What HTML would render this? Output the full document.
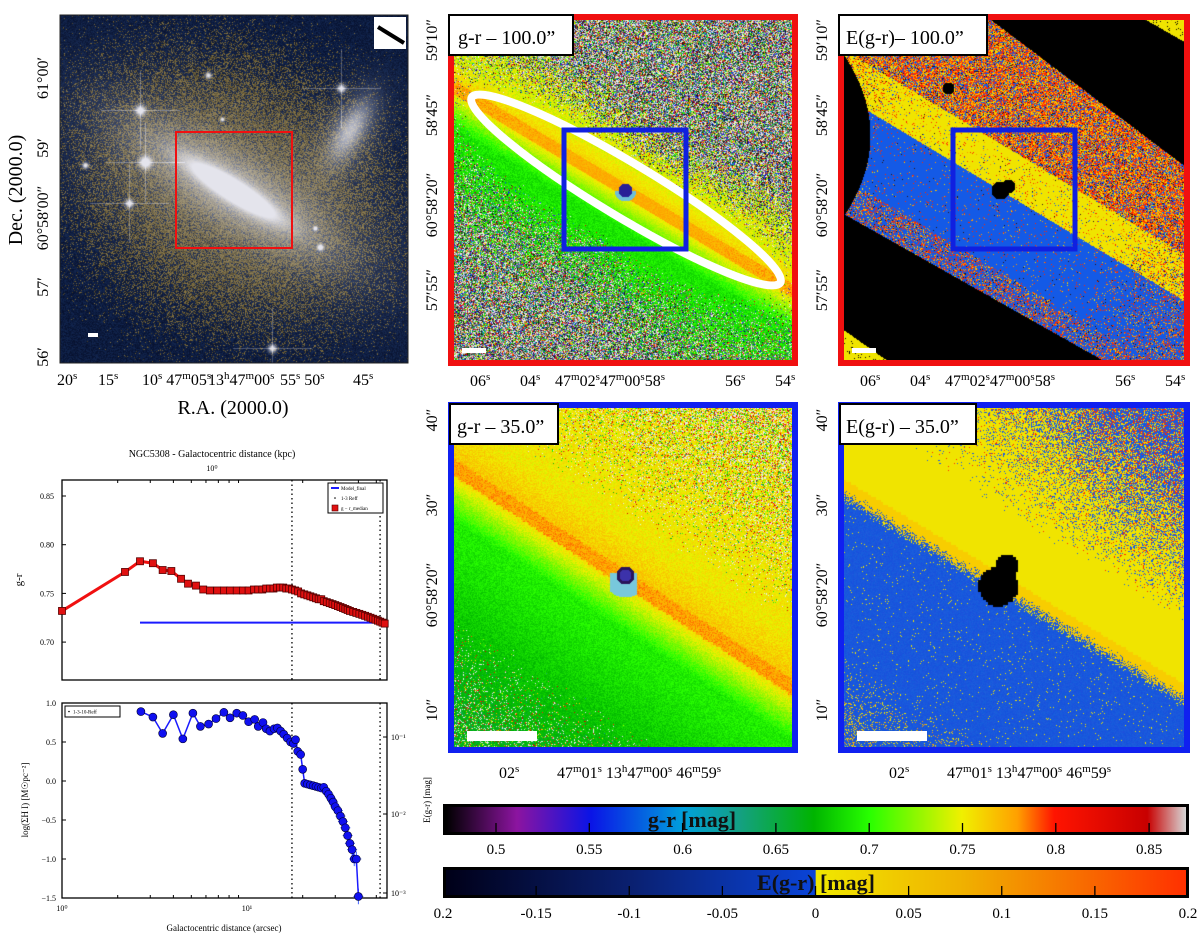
<!DOCTYPE html>
<html><head><meta charset="utf-8">
<style>
html,body{margin:0;padding:0;background:#fff;}
body{width:1200px;height:937px;position:relative;overflow:hidden;font-family:"Liberation Serif",serif;}
canvas{position:absolute;display:block;}
#ov{position:absolute;left:0;top:0;}
.cb{position:absolute;border:3px solid #000;box-sizing:border-box;}
</style></head>
<body>
<canvas id="tl" width="348" height="348" style="left:60px;top:15px"></canvas>
<canvas id="mt" width="350" height="352" style="left:448px;top:14px"></canvas>
<canvas id="rt" width="352" height="352" style="left:838px;top:14px"></canvas>
<canvas id="ml" width="350" height="351" style="left:448px;top:402px"></canvas>
<canvas id="mr" width="352" height="351" style="left:838px;top:402px"></canvas>
<div class="cb" style="left:443px;top:804px;width:746px;height:31px;background:linear-gradient(to right,#000 0%,#8c14a0 9.6%,#0a14e6 19.6%,#00a0dc 32.1%,#14a082 39.7%,#00b400 49.7%,#28ff00 57.2%,#f0f000 69.7%,#ffa000 77.2%,#ff1400 82.2%,#c80000 94.8%,#d7d7d7 100%);"></div>
<div class="cb" style="left:443px;top:867px;width:746px;height:31px;background:linear-gradient(to right,#000018 0%,#0a2070 25%,#0a44d8 49.9%,#f0e800 50%,#f0b000 70%,#ff3000 100%);"></div>
<svg id="ov" width="1200" height="937" xmlns="http://www.w3.org/2000/svg" font-family="Liberation Serif, serif">
<g>
<rect x="60" y="15" width="348" height="348" fill="none" stroke="#222" stroke-width="1"/>
<rect x="176" y="132" width="116" height="116" fill="none" stroke="#f01010" stroke-width="2"/>
<rect x="374" y="17" width="32" height="32" fill="#fff"/>
<line x1="378" y1="27" x2="404" y2="43" stroke="#000" stroke-width="4"/>
<rect x="88" y="333" width="10" height="4" fill="#fff"/>
<text transform="translate(22,190) rotate(-90)" text-anchor="middle" font-size="20">Dec. (2000.0)</text>
<text transform="translate(48,78) rotate(-90)" text-anchor="middle" font-size="16">61°00′</text>
<text transform="translate(48,148) rotate(-90)" text-anchor="middle" font-size="16">59′</text>
<text transform="translate(48,218) rotate(-90)" text-anchor="middle" font-size="16">60°58′00″</text>
<text transform="translate(48,287) rotate(-90)" text-anchor="middle" font-size="16">57′</text>
<text transform="translate(48,357) rotate(-90)" text-anchor="middle" font-size="16">56′</text>
<g font-size="16">
<text x="57" y="385">20<tspan dy="-6" font-size="11">s</tspan></text>
<text x="98" y="385">15<tspan dy="-6" font-size="11">s</tspan></text>
<text x="142" y="385">10<tspan dy="-6" font-size="11">s</tspan><tspan dy="6"> 47</tspan><tspan dy="-6" font-size="11">m</tspan><tspan dy="6">05</tspan><tspan dy="-6" font-size="11">s</tspan></text>
<text x="208" y="385">13<tspan dy="-6" font-size="11">h</tspan><tspan dy="6">47</tspan><tspan dy="-6" font-size="11">m</tspan><tspan dy="6">00</tspan><tspan dy="-6" font-size="11">s</tspan></text>
<text x="280" y="385">55<tspan dy="-6" font-size="11">s</tspan><tspan dy="6"> 50</tspan><tspan dy="-6" font-size="11">s</tspan></text>
<text x="353" y="385">45<tspan dy="-6" font-size="11">s</tspan></text>
</g>
<text x="233" y="414" text-anchor="middle" font-size="20">R.A. (2000.0)</text>
</g>
<g>
<ellipse cx="626" cy="190" rx="180" ry="27" transform="rotate(31 626 190)" fill="none" stroke="#fff" stroke-width="8"/>
<rect x="564" y="130" width="122" height="119" fill="none" stroke="#1020e0" stroke-width="5"/>
<rect x="451" y="17" width="344" height="346" fill="none" stroke="#f01010" stroke-width="6"/>
<rect x="462" y="348" width="24" height="5" fill="#fff"/>
<rect x="449" y="15" width="124" height="40" fill="#fff" stroke="#000" stroke-width="2"/>
<text x="458" y="44" font-size="20">g-r – 100.0”</text>
</g>
<g>
<rect x="953" y="130" width="122" height="119" fill="none" stroke="#1020e0" stroke-width="5"/>
<rect x="841" y="17" width="346" height="346" fill="none" stroke="#f01010" stroke-width="6"/>
<rect x="852" y="348" width="24" height="5" fill="#fff"/>
<rect x="839" y="15" width="148" height="40" fill="#fff" stroke="#000" stroke-width="2"/>
<text x="846" y="44" font-size="20">E(g-r)– 100.0”</text>
</g>
<g font-size="16">
<text transform="translate(437,40) rotate(-90)" text-anchor="middle">59′10″</text>
<text transform="translate(437,115) rotate(-90)" text-anchor="middle">58′45″</text>
<text transform="translate(437,205) rotate(-90)" text-anchor="middle">60°58′20″</text>
<text transform="translate(437,290) rotate(-90)" text-anchor="middle">57′55″</text>
<text transform="translate(827,40) rotate(-90)" text-anchor="middle">59′10″</text>
<text transform="translate(827,115) rotate(-90)" text-anchor="middle">58′45″</text>
<text transform="translate(827,205) rotate(-90)" text-anchor="middle">60°58′20″</text>
<text transform="translate(827,290) rotate(-90)" text-anchor="middle">57′55″</text>
<text x="470" y="386">06<tspan dy="-6" font-size="11">s</tspan></text>
<text x="520" y="386">04<tspan dy="-6" font-size="11">s</tspan></text>
<text x="555" y="386">47<tspan dy="-6" font-size="11">m</tspan><tspan dy="6">02</tspan><tspan dy="-6" font-size="11">s</tspan><tspan dy="6">47</tspan><tspan dy="-6" font-size="11">m</tspan><tspan dy="6">00</tspan><tspan dy="-6" font-size="11">s</tspan><tspan dy="6">58</tspan><tspan dy="-6" font-size="11">s</tspan></text>
<text x="725" y="386">56<tspan dy="-6" font-size="11">s</tspan></text>
<text x="775" y="386">54<tspan dy="-6" font-size="11">s</tspan></text>
<text x="860" y="386">06<tspan dy="-6" font-size="11">s</tspan></text>
<text x="910" y="386">04<tspan dy="-6" font-size="11">s</tspan></text>
<text x="945" y="386">47<tspan dy="-6" font-size="11">m</tspan><tspan dy="6">02</tspan><tspan dy="-6" font-size="11">s</tspan><tspan dy="6">47</tspan><tspan dy="-6" font-size="11">m</tspan><tspan dy="6">00</tspan><tspan dy="-6" font-size="11">s</tspan><tspan dy="6">58</tspan><tspan dy="-6" font-size="11">s</tspan></text>
<text x="1115" y="386">56<tspan dy="-6" font-size="11">s</tspan></text>
<text x="1165" y="386">54<tspan dy="-6" font-size="11">s</tspan></text>
</g>
<g>
<rect x="451" y="405" width="344" height="345" fill="none" stroke="#1020f0" stroke-width="6"/>
<rect x="467" y="731" width="70" height="10" fill="#fff"/>
<rect x="450" y="404" width="108" height="40" fill="#fff" stroke="#000" stroke-width="2"/>
<text x="457" y="433" font-size="20">g-r – 35.0”</text>
</g>
<g>
<rect x="841" y="405" width="346" height="345" fill="none" stroke="#1020f0" stroke-width="6"/>
<rect x="857" y="731" width="70" height="10" fill="#fff"/>
<rect x="840" y="404" width="136" height="40" fill="#fff" stroke="#000" stroke-width="2"/>
<text x="846" y="433" font-size="20">E(g-r) – 35.0”</text>
</g>
<g font-size="16">
<text transform="translate(437,420) rotate(-90)" text-anchor="middle">40″</text>
<text transform="translate(437,505) rotate(-90)" text-anchor="middle">30″</text>
<text transform="translate(437,595) rotate(-90)" text-anchor="middle">60°58′20″</text>
<text transform="translate(437,710) rotate(-90)" text-anchor="middle">10″</text>
<text transform="translate(827,420) rotate(-90)" text-anchor="middle">40″</text>
<text transform="translate(827,505) rotate(-90)" text-anchor="middle">30″</text>
<text transform="translate(827,595) rotate(-90)" text-anchor="middle">60°58′20″</text>
<text transform="translate(827,710) rotate(-90)" text-anchor="middle">10″</text>
<text x="499" y="778">02<tspan dy="-6" font-size="11">s</tspan></text>
<text x="557" y="778">47<tspan dy="-6" font-size="11">m</tspan><tspan dy="6">01</tspan><tspan dy="-6" font-size="11">s</tspan><tspan dy="6"> 13</tspan><tspan dy="-6" font-size="11">h</tspan><tspan dy="6">47</tspan><tspan dy="-6" font-size="11">m</tspan><tspan dy="6">00</tspan><tspan dy="-6" font-size="11">s</tspan><tspan dy="6"> 46</tspan><tspan dy="-6" font-size="11">m</tspan><tspan dy="6">59</tspan><tspan dy="-6" font-size="11">s</tspan></text>
<text x="889" y="778">02<tspan dy="-6" font-size="11">s</tspan></text>
<text x="947" y="778">47<tspan dy="-6" font-size="11">m</tspan><tspan dy="6">01</tspan><tspan dy="-6" font-size="11">s</tspan><tspan dy="6"> 13</tspan><tspan dy="-6" font-size="11">h</tspan><tspan dy="6">47</tspan><tspan dy="-6" font-size="11">m</tspan><tspan dy="6">00</tspan><tspan dy="-6" font-size="11">s</tspan><tspan dy="6"> 46</tspan><tspan dy="-6" font-size="11">m</tspan><tspan dy="6">59</tspan><tspan dy="-6" font-size="11">s</tspan></text>
</g>
<g>
<text x="692" y="827" text-anchor="middle" font-size="22" font-weight="bold" fill="#111">g-r [mag]</text>
<text x="816" y="890" text-anchor="middle" font-size="22" font-weight="bold" fill="#111">E(g-r) [mag]</text>
<text transform="translate(430,800) rotate(-90)" text-anchor="middle" font-size="9">E(g-r) [mag]</text>
<g id="cbticks" font-size="15"></g>
</g>
<g id="profile"></g>
</svg>
<script>
// ---------- profile chart data ----------
const grDist=[1,2.19,2.64,3.1,3.5,3.9,4.4,4.8,5.3,5.8,6.3,6.9,7.5,8.1,8.8,9.5,10.2,10.9,11.5,12.1,12.7,13.3,13.9,14.5,15.1,15.7,16.3,16.9,17.5,18.2,18.9,19.6,20.4,21.2,22,22.8,23.6,24.4,25.2,26,27,28,29,30,31,32,33,34,35,36,37.5,39,40.5,42,43.5,45,46.5,48,49.5,51,52.5,54,55.5];
const grValues=[.732,.772,.783,.781,.774,.773,.765,.760,.758,.754,.753,.753,.753,.753,.753,.753,.753,.754,.754,.754,.755,.755,.755,.756,.756,.756,.755,.755,.754,.753,.752,.750,.749,.748,.747,.746,.745,.744,.744,.742,.741,.740,.739,.738,.737,.736,.735,.734,.733,.732,.731,.730,.729,.728,.727,.726,.725,.724,.723,.722,.721,.720,.719];
const modelRange=[2.64,57];
const modelValue=0.720;
const reffLines=[17.5,52.4];
const grTicks=[0.70,0.75,0.80,0.85];
const hiDist=[2.67,3.1,3.5,4.0,4.5,5.1,5.6,6.2,6.8,7.5,8.1,8.8,9.5,10.2,11,11.5,12.2,12.7,13.3,14,14.6,15.2,15.8,16.5,17.2,17.8,18.3,18.8,19.5,20,20.5,21.2,22,22.8,23.6,24.4,25.2,26,26.8,27.6,28.4,29.2,30,31,32,33,34,35,36,37,38,39,40];
const hiValues=[0.89,0.82,0.61,0.85,0.54,0.87,0.70,0.73,0.80,0.88,0.81,0.87,0.84,0.76,0.79,0.70,0.75,0.67,0.64,0.67,0.68,0.64,0.60,0.55,0.50,0.48,0.53,0.38,0.34,0.15,-0.03,-0.04,-0.05,-0.06,-0.07,-0.08,-0.09,-0.08,-0.13,-0.17,-0.22,-0.27,-0.33,-0.38,-0.45,-0.52,-0.60,-0.70,-0.80,-0.88,-1.0,-1.0,-1.48];
const hiTicks=[1.0,0.5,0.0,-0.5,-1.0,-1.5];
const hiTickLabels=["1.0","0.5","0.0","\u22120.5","\u22121.0","\u22121.5"];
const cb1Ticks=[0.5,0.55,0.6,0.65,0.7,0.75,0.8,0.85];
const cb2Ticks=[-0.2,-0.15,-0.1,-0.05,0,0.05,0.1,0.15,0.2];
const cb2Labels=["0.2","-0.15","-0.1","-0.05","0","0.05","0.1","0.15","0.2"];

const NS="http://www.w3.org/2000/svg";
function mk(tag,attrs,parent,txt){const e=document.createElementNS(NS,tag);for(const k in attrs)e.setAttribute(k,attrs[k]);if(txt!==undefined)e.textContent=txt;parent.appendChild(e);return e;}
const X0=62,X1=387;
function xs(d){return X0+185*Math.log10(d);}
function y1(v){return 496+(0.85-v)/0.05*48.7;}
function y2(v){return 703+(1-v)/2.5*195;}
const G=document.getElementById('profile');

let t=mk('text',{x:212,y:457,'text-anchor':'middle','font-size':10},G,'NGC5308 - Galactocentric distance (kpc)');

t=mk('text',{x:212,y:471,'text-anchor':'middle','font-size':8},G,'10⁰');
let f=mk('rect',{x:X0,y:480,width:X1-X0,height:200,fill:'#fff',stroke:'#000','stroke-width':1.3},G);

grTicks.forEach(v=>{mk('line',{x1:X0,y1:y1(v),x2:X0+4,y2:y1(v),stroke:'#000'},G);
 const l=mk('text',{x:X0-8,y:y1(v)+3,'text-anchor':'end','font-size':8},G,v.toFixed(2));
 });
t=mk('text',{transform:'translate(22,580) rotate(-90)','text-anchor':'middle','font-size':11},G,'g-r');

reffLines.forEach(d=>{const l=mk('line',{x1:xs(d),y1:480,x2:xs(d),y2:680,stroke:'#000','stroke-dasharray':'1.5,3','stroke-width':1.3},G);
 });
let ml=mk('line',{x1:xs(modelRange[0]),y1:y1(modelValue),x2:Math.min(X1,xs(modelRange[1])),y2:y1(modelValue),stroke:'#1a1aff','stroke-width':2},G);

let pts=grDist.map((d,i)=>xs(d)+','+y1(grValues[i])).join(' ');
let pl=mk('polyline',{points:pts,fill:'none',stroke:'#f01010','stroke-width':3},G);

grDist.forEach((d,i)=>{const r=mk('rect',{x:xs(d)-3.5,y:y1(grValues[i])-3.5,width:7,height:7,fill:'#e01010',stroke:'#500','stroke-width':0.8},G);
 });
let lg=mk('g',{},G);
mk('rect',{x:328,y:483,width:55,height:30,fill:'#fff',stroke:'#000','stroke-width':1},lg);
mk('line',{x1:331,y1:488,x2:339,y2:488,stroke:'#1a1aff','stroke-width':2},lg);
mk('text',{x:341,y:490,'font-size':5},lg,'Model_final');
mk('circle',{cx:335,cy:498,r:0.8,fill:'#000'},lg);
mk('text',{x:341,y:500,'font-size':5},lg,'1-3 Reff');
mk('rect',{x:332,y:505,width:6,height:6,fill:'#e01010',stroke:'#500','stroke-width':0.6},lg);
mk('text',{x:341,y:510,'font-size':5},lg,'g − r_median');

f=mk('rect',{x:X0,y:703,width:X1-X0,height:195,fill:'#fff',stroke:'#000','stroke-width':1.3},G);

hiTicks.forEach((v,i)=>{mk('line',{x1:X0,y1:y2(v),x2:X0+4,y2:y2(v),stroke:'#000'},G);
 const l=mk('text',{x:X0-6,y:y2(v)+3,'text-anchor':'end','font-size':8},G,hiTickLabels[i]);
 });
[1,10].forEach((d,i)=>{const l=mk('text',{x:xs(d),y:911,'text-anchor':'middle','font-size':8},G,i?'10¹':'10⁰');
 });
for(let d=2;d<=50;d+=(d<10?1:10)){if(d===10)continue;mk('line',{x1:xs(d),y1:898,x2:xs(d),y2:895,stroke:'#000'},G);mk('line',{x1:xs(d),y1:480,x2:xs(d),y2:483,stroke:'#000'},G);}
t=mk('text',{x:224,y:931,'text-anchor':'middle','font-size':9},G,'Galactocentric distance (arcsec)');

t=mk('text',{transform:'translate(28,800) rotate(-90)','text-anchor':'middle','font-size':9},G,'log(ΣH I) [M☉pc⁻²]');

['10⁻¹','10⁻²','10⁻³'].forEach((s,i)=>{const yy=[737,814,893][i];mk('line',{x1:X1-4,y1:yy,x2:X1,y2:yy,stroke:'#000'},G);mk('text',{x:391,y:yy+3,'font-size':8},G,s);});
reffLines.forEach(d=>{const l=mk('line',{x1:xs(d),y1:703,x2:xs(d),y2:898,stroke:'#000','stroke-dasharray':'1.5,3','stroke-width':1.3},G);
 });
hiDist.forEach((d,i)=>{if(d>26){const e=0.04+0.06*(d-26)/14;mk('line',{x1:xs(d),y1:y2(hiValues[i]+e),x2:xs(d),y2:y2(hiValues[i]-e),stroke:'#4060ff','stroke-width':1},G);mk('line',{x1:xs(d)-5,y1:y2(hiValues[i]),x2:xs(d)+5,y2:y2(hiValues[i]),stroke:'#4060ff','stroke-width':1},G);}});
pts=hiDist.map((d,i)=>xs(d)+','+Math.min(898,y2(hiValues[i]))).join(' ');
pl=mk('polyline',{points:pts,fill:'none',stroke:'#1a1aff','stroke-width':1.5},G);

hiDist.forEach((d,i)=>{const c=mk('circle',{cx:xs(d),cy:Math.min(898,y2(hiValues[i])),r:4,fill:'#1010f0',stroke:'#000030','stroke-width':0.6},G);
 });
lg=mk('g',{},G);
mk('rect',{x:65,y:706,width:55,height:11,fill:'#fff',stroke:'#000','stroke-width':1},lg);
mk('circle',{cx:69,cy:711.5,r:0.8,fill:'#000'},lg);
mk('text',{x:73,y:713.5,'font-size':5},lg,'1-3-10-Reff');

const CB=document.getElementById('cbticks');
function cb1x(v){return 496+(v-0.5)/0.05*93.3;}
function cb2x(v){return 443+(v+0.2)/0.4*745;}
cb1Ticks.forEach(v=>{mk('line',{x1:cb1x(v),y1:823,x2:cb1x(v),y2:833,stroke:'#000','stroke-width':1.3},CB);
 const l=mk('text',{x:cb1x(v),y:854,'text-anchor':'middle'},CB,String(v));});
cb2Ticks.forEach((v,i)=>{if(i>0&&i<cb2Ticks.length-1)mk('line',{x1:cb2x(v),y1:886,x2:cb2x(v),y2:896,stroke:'#000','stroke-width':1.3},CB);
 const l=mk('text',{x:cb2x(v),y:918,'text-anchor':'middle'},CB,cb2Labels[i]);});

// ---------- image rendering ----------
let seed=12345;function rnd(){seed|=0;seed=seed+0x6D2B79F5|0;let t=Math.imul(seed^seed>>>15,1|seed);t=t+Math.imul(t^t>>>7,61|t)^t;return((t^t>>>14)>>>0)/4294967296;}
const stops=[[0.4716,[0,0,0]],[0.51,[140,20,160]],[0.55,[10,20,230]],[0.60,[0,160,220]],[0.63,[20,160,130]],[0.67,[0,180,0]],[0.70,[40,255,0]],[0.75,[240,240,0]],[0.78,[255,160,0]],[0.80,[255,20,0]],[0.85,[200,0,0]],[0.871,[215,215,215]]];
function cmap(v){if(v<=stops[0][0])return stops[0][1];for(let i=1;i<stops.length;i++){if(v<=stops[i][0]){const a=stops[i-1],b=stops[i],f=(v-a[0])/(b[0]-a[0]);return[a[1][0]+f*(b[1][0]-a[1][0]),a[1][1]+f*(b[1][1]-a[1][1]),a[1][2]+f*(b[1][2]-a[1][2])];}}return stops[stops.length-1][1];}
function paint(id,fn){const c=document.getElementById(id),ctx=c.getContext('2d'),w=c.width,h=c.height,im=ctx.createImageData(w,h);for(let y=0;y<h;y++)for(let x=0;x<w;x++){const p=fn(x,y),k=(y*w+x)*4;im.data[k]=p[0];im.data[k+1]=p[1];im.data[k+2]=p[2];im.data[k+3]=255;}ctx.putImageData(im,0,0);}
function rot(dx,dy,deg){const r=deg*Math.PI/180,c=Math.cos(r),s=Math.sin(r);return[dx*c+dy*s,-dx*s+dy*c];}
const cl=v=>Math.max(0,Math.min(1,v));

const stars=[[69,188,4],[212,333,4],[281,73,4],[260,232,3],[255,213,2],[148,60,3],[162,104,2],[85,147,6],[80,95,5],[25,150,3]];
paint('tl',(x,y)=>{const[a,p]=rot(x-173,y-175,25);
 const halo=Math.exp(-Math.pow((a/165)**2+(p/135)**2,1.8));
 let c;if(rnd()<halo*0.85){const k=0.5+0.6*rnd();c=[125*k,108*k,60*k];}else{const k=rnd();c=[6+12*k,16+22*k,45+35*k];}
 const[ai,pi]=rot(x-173,y-175,32);
 let g=0.95*Math.exp(-((ai/50)**2+(pi/10)**2))+0.45*Math.exp(-((ai/110)**2+(pi/30)**2))+0.28*Math.exp(-((a/150)**2+(p/80)**2));
 const[a2,p2]=rot(x-290,y-115,-60);g+=0.55*Math.exp(-((a2/32)**2+(p2/13)**2))+0.2*Math.exp(-((a2/50)**2+(p2/30)**2));
 for(const s of stars){const r2=(x-s[0])**2+(y-s[1])**2;g+=Math.exp(-r2/(s[2]*s[2]));if(s[2]>=4){if(Math.abs(y-s[1])<1&&Math.abs(x-s[0])<40)g+=0.3;if(Math.abs(x-s[0])<1&&Math.abs(y-s[1])<40)g+=0.3;}}
 g=cl(g);return[c[0]*(1-g)+228*g,c[1]*(1-g)+228*g,c[2]*(1-g)+236*g];});

function noiseCol(){const r=rnd();if(r<0.35){const k=60+170*rnd();return[k,k,k];}if(r<0.5)return[240,240,240];if(r<0.6)return[20,20,20];return cmap(0.5+0.37*rnd());}
paint('mt',(x,y)=>{const[a,p]=rot(x-177,y-176,31);const r=Math.hypot(x-177,y-176);
 if(r<7)return[40,30,150];if(r<11&&y>176)return[110,190,215];
 const wp=p>0?70+0.12*Math.abs(a):40+0.1*Math.abs(a);
 const m=Math.exp(-((a/260)**2+(p/wp)**2));
 if(rnd()<Math.min(1,m*1.6)){let v;if(Math.abs(p)<6)v=0.775;else v=p>0?0.765-0.075*cl(p/35):0.765-0.02*cl(-p/25);v+=(rnd()-0.5)*0.035*(1.3-m);return cmap(v);}
 return noiseCol();});

const YEL=[240,228,0],BLU=[20,90,230],RED=[255,40,0],ORA=[255,150,0];
function eNoise(){const r=rnd();return r<0.35?RED:r<0.6?ORA:r<0.85?BLU:r<0.92?YEL:[40,20,20];}
paint('rt',(x,y)=>{const X=x+838,Y=y+14;
 if(X-1143>(Y-18)*47/27)return rnd()<0.05?[0,0,0]:YEL;
 if((Y-330)>(X-844)*36/51)return rnd()<0.05?[0,0,0]:YEL;
 if(Y>214+0.565*(X-844))return[0,0,0];
 if(Y<19+0.755*(X-990))return[0,0,0];
 if(Y>55&&Y<215&&X<844+26*(1-((Y-135)/80)**2))return[0,0,0];
 if(Math.hypot(X-1000,Y-190)<9||Math.hypot(X-1008,Y-186)<7||Math.hypot(X-948,Y-88)<6)return[0,0,0];
 const[a,p]=rot(X-1000,Y-190,31);const nf=cl((Math.abs(a)-120)/150);
 if(p<-40)return rnd()<0.9?eNoise():YEL;
 if(p<0)return rnd()<0.08+nf*0.6?eNoise():YEL;
 if(p<70)return rnd()<0.06+nf*0.5?eNoise():BLU;
 return rnd()<0.5?BLU:eNoise();});

paint('ml',(x,y)=>{const bx=Math.floor(x/2.5)*2.5,by=Math.floor(y/2.5)*2.5;const[a,p]=rot(bx-177,by-176,33);const r=Math.hypot(x-177,y-173);
 if(r<9)return r<6?[60,50,170]:[40,20,90];
 if(r<22&&y>170&&Math.abs(x-175)<14)return[120,200,220];
 let v;if(Math.abs(p)<7)v=0.778;else if(p<0)v=0.768-0.015*cl(-p/40);else v=0.768-0.075*cl(p/45)-0.03*cl((p-60)/140);
 const nz=p<0?cl((-p-50)/160)*cl((x+180-y)/250):cl((p-120)/120)*0.6;
 if(rnd()<nz*0.7)return rnd()<0.6?cmap(0.62+0.25*rnd()):[235,235,235];
 v+=(rnd()-0.5)*0.02;return cmap(v);});

paint('mr',(x,y)=>{const bx=Math.floor(x/2.5)*2.5,by=Math.floor(y/2.5)*2.5;const X=bx+838,Y=by+402;
 if(Math.hypot(X-997,Y-585)<20||Math.hypot(X-1005,Y-565)<12)return[0,0,0];
 const[a,p]=rot(X-1000,Y-582,31);const bnd=6+(rnd()-0.5)*14;
 if(p>bnd){const nz=cl((p-140)/160)*0.5;if(rnd()<nz)return rnd()<0.6?YEL:ORA;if(rnd()<0.02)return YEL;return[20+10*rnd(),80+15*rnd(),220];}
 const nz=cl((-p-60)/140)*cl((X-900)/200);if(rnd()<nz*0.8)return rnd()<0.75?BLU:RED;
 if(Math.abs(p)<8)return[248,205,0];return YEL;});
</script>
</body></html>
